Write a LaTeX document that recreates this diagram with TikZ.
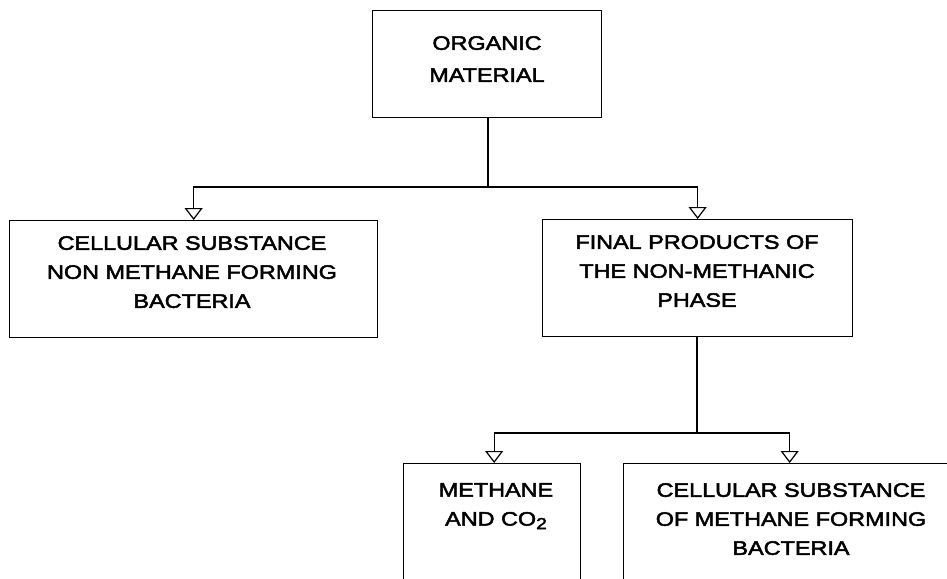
\documentclass[tikz,border=0pt]{standalone}
\usepackage{fontspec}
\setmainfont{Liberation Sans}[FakeStretch=1.2, FakeBold=2.5]
\usetikzlibrary{arrows.meta}
\tikzset{
  box/.style={draw, line width=1.3pt, rectangle, inner sep=0pt},
  txt/.style={align=center, inner sep=0pt, anchor=north, font=\fontsize{19.5}{29}\selectfont},
  txtwide/.style={align=center, inner sep=0pt, anchor=north, font=\fontsize{19.5}{32}\selectfont},
  conn/.style={line width=1.2pt},
  arr/.style={line width=1.2pt, -{Triangle[open, width=18pt, length=12pt, line width=1.2pt]}}
}
\begin{document}
\begin{tikzpicture}[x=1pt,y=-1pt]
\useasboundingbox (0,0) rectangle (947,578);
\clip (0,0) rectangle (947,578);
% boxes
\node[box, minimum width=229pt, minimum height=107pt, anchor=north west] (org) at (372,10) {};
\node[box, minimum width=368pt, minimum height=117pt, anchor=north west] (cell) at (9,220) {};
\node[box, minimum width=310pt, minimum height=117pt, anchor=north west] (final) at (542,219) {};
\node[box, minimum width=177pt, minimum height=200pt, anchor=north west] (meth) at (403,463) {};
\node[box, minimum width=332pt, minimum height=200pt, anchor=north west] (cellm) at (623,463) {};
% texts
\node[txtwide] (torg) at (487,36) {ORGANIC\\MATERIAL};
\node[txt] (tcell) at (192,236) {CELLULAR SUBSTANCE\\NON METHANE FORMING\\BACTERIA};
\node[txt] (tfinal) at (697,235) {FINAL PRODUCTS OF\\THE NON-METHANIC\\PHASE};
\node[txt] (tmeth) at (496,483) {METHANE\\AND CO\raisebox{-3.5pt}{\fontsize{16}{16}\selectfont 2}};
\node[txt] (tcellm) at (791,483) {CELLULAR SUBSTANCE\\OF METHANE FORMING\\BACTERIA};
% connectors
\coordinate (j1) at (488,187);
\coordinate (j2) at (697,433);
\draw[conn] (org.south -| j1) -- (j1);
\draw[arr] (j1) -| (cell.north);
\draw[arr] (j1) -| (final.north);
\draw[conn] (final.south -| j2) -- (j2);
\draw[arr] (j2) -| ([xshift=2pt]meth.north);
\draw[arr] (j2) -| (cellm.north);
\end{tikzpicture}
\end{document}
